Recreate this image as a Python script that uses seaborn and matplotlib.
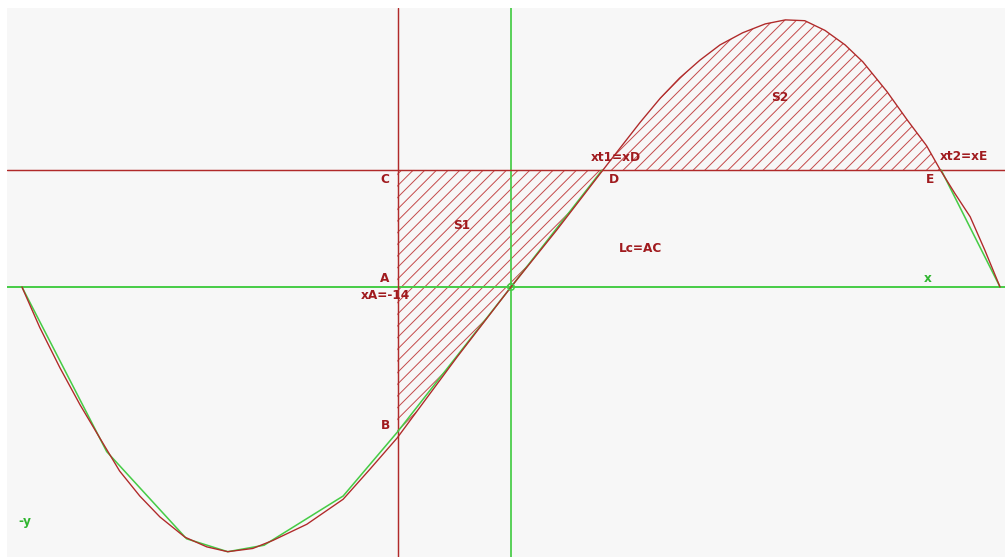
import matplotlib
matplotlib.use("Agg")
import matplotlib.pyplot as plt
import seaborn as sns
import pandas as pd

# Curve y(x) sampled along the graph
curve_x = [-60.6, -58.4, -55.9, -53.4, -50.9, -48.5, -46.0, -43.5, -40.4, -37.7,
           -35.1, -32.0, -29.5, -25.3, -20.8, -17.5, -14.1, -6.7, 0.0, 5.7,
           11.4, 13.5, 16.0, 18.5, 20.9, 23.4, 25.9, 28.7, 31.5, 34.0,
           36.4, 38.9, 41.4, 43.6, 46.6, 49.1, 51.5, 53.2, 55.0, 56.9,
           58.7, 60.6]
curve_y = [0.0, -5.0, -10.0, -14.6, -18.8, -22.8, -25.9, -28.5, -31.0, -32.2,
           -32.8, -32.4, -31.4, -29.4, -26.3, -22.6, -18.7, -8.7, 0.0, 7.1,
           14.5, 17.2, 20.4, 23.4, 25.9, 28.1, 30.0, 31.5, 32.6, 33.1,
           33.0, 31.8, 30.0, 27.9, 24.2, 20.7, 17.5, 14.5, 11.6, 8.7,
           4.6, 0.0]

# Chord (polyline) approximations of the curve
chord_left_x = [-60.6, -50.1, -40.2, -35.1, -30.6, -20.8, -14.1, 0.0, 11.3]
chord_left_y = [0.0, -20.4, -31.2, -32.8, -32.0, -25.9, -18.0, 0.0, 14.5]
chord_right_x = [53.3, 60.6]
chord_right_y = [14.5, 0.0]

# Key levels
x_A = -14.0
y_C = 14.5
x_D = 11.4
x_E = 53.2

# Annotation labels: (text, x, y, colour key)
labels = [
    ("C", -15.6, 13.3, "red"),
    ("A", -15.6, 1.0, "red"),
    ("xA=-14", -15.5, -1.1, "red"),
    ("B", -15.6, -17.2, "red"),
    ("S1", -6.1, 7.6, "red"),
    ("D", 12.8, 13.3, "red"),
    ("xt1=xD", 13.0, 16.1, "red"),
    ("Lc=AC", 16.1, 4.8, "red"),
    ("S2", 33.3, 23.5, "red"),
    ("E", 51.9, 13.3, "red"),
    ("xt2=xE", 56.1, 16.2, "red"),
    ("x", 51.7, 1.0, "green"),
    ("-y", -60.2, -29.1, "green"),
]

RED = "#b02a2a"
TEXT_RED = "#a01a1e"
HATCH_RED = "#c4484a"
GREEN = "#46cc46"
TEXT_GREEN = "#2fb52f"
BG = "#f7f7f7"

sns.set_style("white", {"axes.facecolor": BG})
plt.rcParams["hatch.linewidth"] = 1.0

DPI = 70
fig = plt.figure(figsize=(1005 / DPI, 557 / DPI), dpi=DPI, facecolor="white")
ax = fig.add_axes([7 / 1005, 0, 998 / 1005, 549 / 557])
ax.set_facecolor(BG)

curve = pd.DataFrame({"x": curve_x, "y": curve_y})
chord_l = pd.DataFrame({"x": chord_left_x, "y": chord_left_y})
chord_r = pd.DataFrame({"x": chord_right_x, "y": chord_right_y})

# Hatched areas S1 (below line C) and S2 (above line C)
s1 = curve[(curve.x >= x_A - 0.2) & (curve.x <= x_D)]
ax.fill_between(s1.x, s1.y, y_C, facecolor="none", edgecolor=HATCH_RED,
                hatch="//", linewidth=0)
s2 = curve[(curve.x >= x_D) & (curve.x <= x_E)]
ax.fill_between(s2.x, y_C, s2.y, facecolor="none", edgecolor=HATCH_RED,
                hatch="//", linewidth=0)

# Coordinate axes
ax.axhline(0, color=GREEN, lw=2.0, zorder=2)
ax.axvline(0, color=GREEN, lw=1.8, zorder=2)
# Construction lines x = xA and y = C
ax.axvline(x_A, color=RED, lw=1.5, zorder=2)
ax.axhline(y_C, color=RED, lw=1.5, zorder=2)

sns.lineplot(data=chord_l, x="x", y="y", sort=False, color=GREEN, lw=1.6,
             ax=ax, zorder=3)
sns.lineplot(data=chord_r, x="x", y="y", sort=False, color=GREEN, lw=1.6,
             ax=ax, zorder=3)
sns.lineplot(data=curve, x="x", y="y", sort=False, color=RED, lw=1.4,
             ax=ax, zorder=4)

# Origin marker
ax.scatter([0], [0], s=45, facecolors="none", edgecolors=GREEN,
           linewidths=1.6, zorder=5)

for text, lx, ly, key in labels:
    ax.text(lx, ly, text, ha="center", va="center",
            color=TEXT_RED if key == "red" else TEXT_GREEN,
            fontfamily="DejaVu Sans", fontweight="bold", fontsize=12.5,
            zorder=6)

ax.set_xlim((7 - 511) / 8.07, (1005 - 511) / 8.07)
ax.set_ylim((287 - 557) / 8.07, (287 - 8) / 8.07)
ax.set_xlabel("")
ax.set_ylabel("")
ax.set_xticks([])
ax.set_yticks([])
for sp in ax.spines.values():
    sp.set_visible(False)

fig.savefig("out.png", dpi=DPI, facecolor="white")
